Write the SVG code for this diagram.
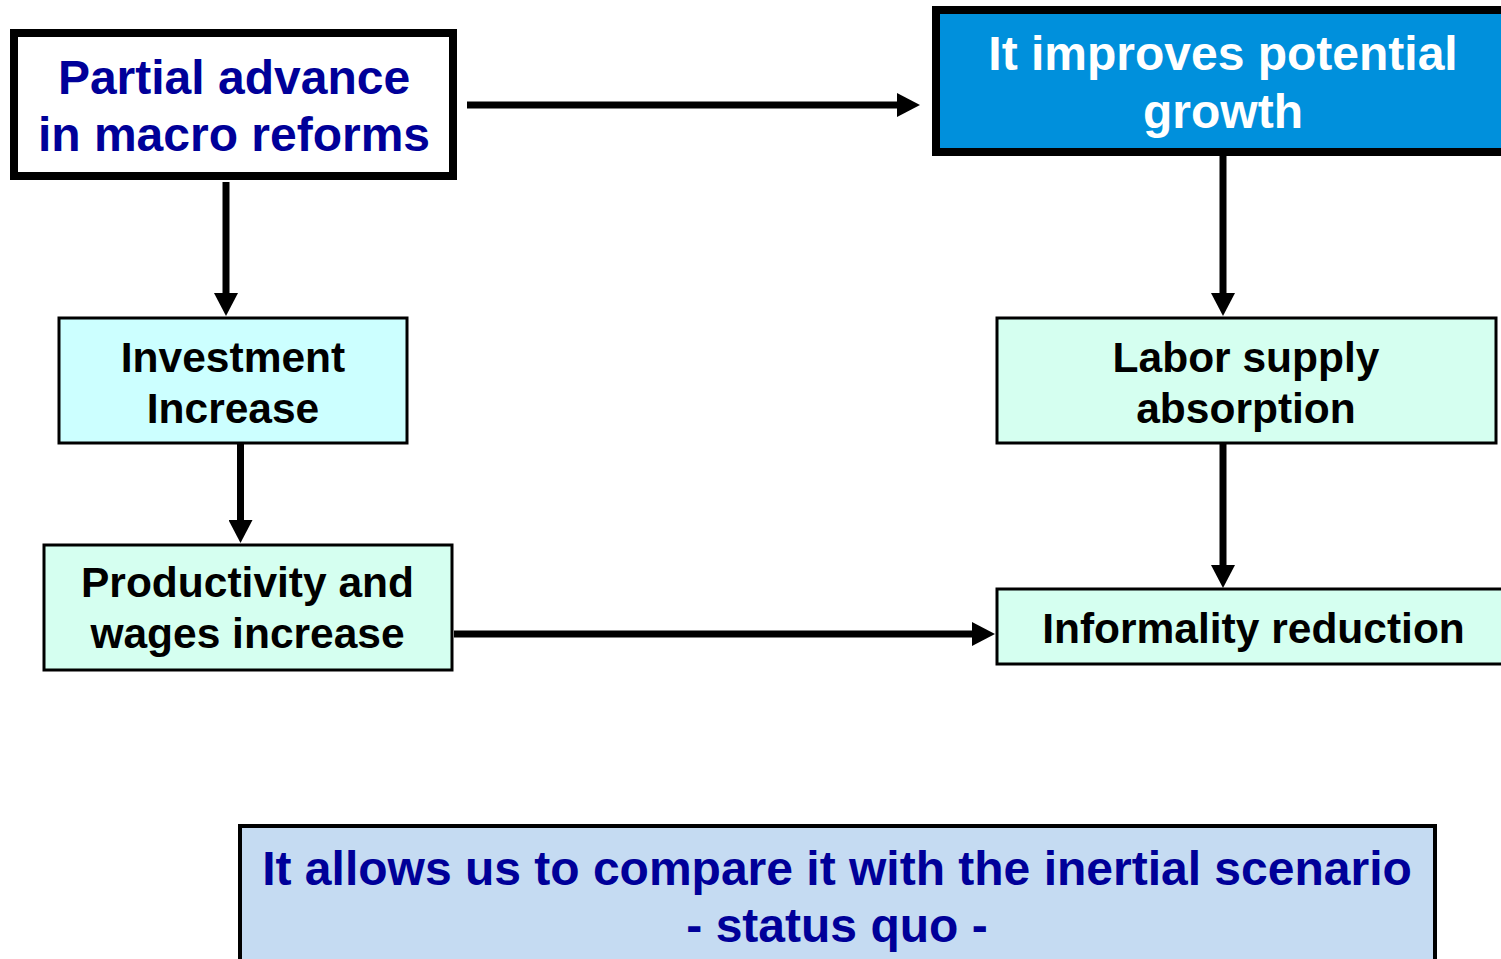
<svg xmlns="http://www.w3.org/2000/svg" width="1501" height="959" viewBox="0 0 1501 959">
  <style>
    text { font-family: "Liberation Sans", Arial, sans-serif; font-weight: bold; text-anchor: middle; }
    .navy { fill: #000099; }
    .ink { fill: #000000; font-size: 42.5px; }
    .white { fill: #ffffff; }
    .heavy { stroke: #000000; stroke-width: 8; }
    .thin { stroke: #000000; stroke-width: 3; }
    .link { stroke: #000000; stroke-width: 7; fill: none; marker-end: url(#head); }
  </style>
  <defs>
    <marker id="head" markerUnits="userSpaceOnUse" markerWidth="23" markerHeight="24" refX="0" refY="12" orient="auto">
      <path d="M0,0 L23,12 L0,24 Z" fill="#000000"/>
    </marker>
  </defs>

  <rect width="1501" height="959" fill="#ffffff"/>

  <g id="connectors">
    <line class="link" x1="467" y1="105" x2="897" y2="105"/>
    <line class="link" x1="226" y1="182" x2="226" y2="293"/>
    <line class="link" x1="240.5" y1="440" x2="240.5" y2="520"/>
    <line class="link" x1="454" y1="634" x2="972" y2="634"/>
    <line class="link" x1="1223" y1="156" x2="1223" y2="293"/>
    <line class="link" x1="1223" y1="440" x2="1223" y2="565"/>
  </g>

  <g id="partial-advance">
    <rect class="heavy" x="14" y="33" width="439" height="143" fill="#ffffff"/>
    <text class="navy" x="234" y="94" font-size="48">Partial advance</text>
    <text class="navy" x="234" y="151" font-size="48">in macro reforms</text>
  </g>

  <g id="potential-growth">
    <rect class="heavy" x="936" y="10" width="580" height="142" fill="#0090dc"/>
    <text class="white" x="1223" y="70" font-size="48">It improves potential</text>
    <text class="white" x="1223" y="128" font-size="48">growth</text>
  </g>

  <g id="investment">
    <rect class="thin" x="59" y="318" width="348" height="125" fill="#ccffff"/>
    <text class="ink" x="233" y="372">Investment</text>
    <text class="ink" x="233" y="423">Increase</text>
  </g>

  <g id="labor-supply">
    <rect class="thin" x="997" y="318" width="499" height="125" fill="#d5fff0"/>
    <text class="ink" x="1246" y="372">Labor supply</text>
    <text class="ink" x="1246" y="423">absorption</text>
  </g>

  <g id="productivity">
    <rect class="thin" x="44" y="545" width="408" height="125" fill="#d5fff0"/>
    <text class="ink" x="247.5" y="597">Productivity and</text>
    <text class="ink" x="247.5" y="648">wages increase</text>
  </g>

  <g id="informality">
    <rect class="thin" x="997" y="589" width="520" height="75" fill="#d5fff0"/>
    <text class="ink" x="1253.5" y="643">Informality reduction</text>
  </g>

  <g id="inertial-scenario">
    <rect x="240" y="826" width="1195" height="150" fill="#c5dbf2" stroke="#000000" stroke-width="4"/>
    <text class="navy" x="837" y="885" font-size="48">It allows us to compare it with the inertial scenario</text>
    <text class="navy" x="837" y="942" font-size="48">- status quo -</text>
  </g>
</svg>
